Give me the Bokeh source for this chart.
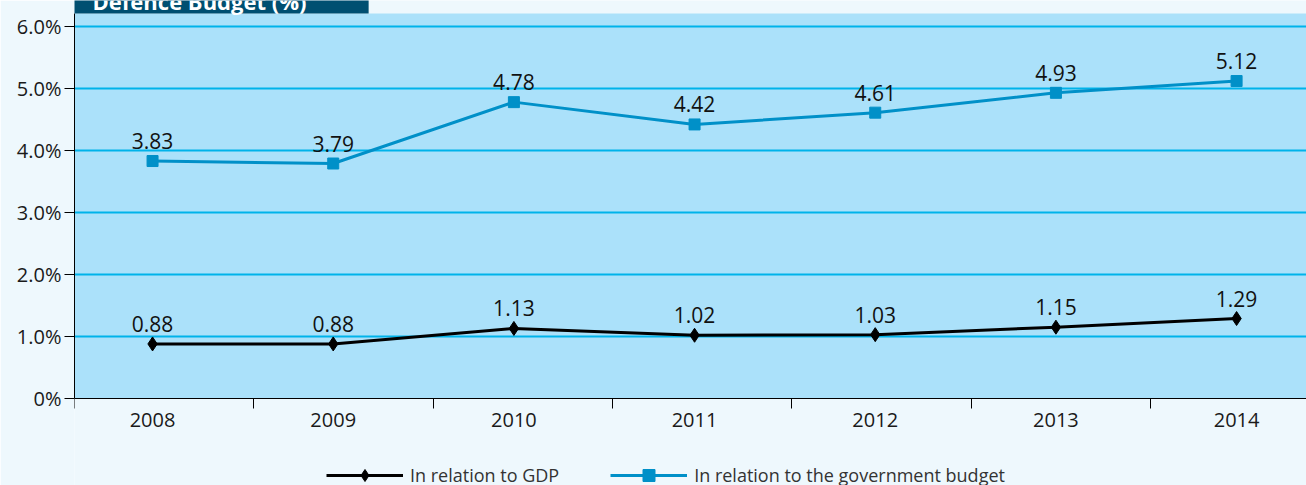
from bokeh.plotting import figure
from bokeh.models import FixedTicker, Legend, LegendItem, Label, BoxAnnotation
from bokeh.core.properties import value
from bokeh.embed import file_html
from bokeh.resources import INLINE

# ---- data ----
years = [2008, 2009, 2010, 2011, 2012, 2013, 2014]
gdp_share = [0.88, 0.88, 1.13, 1.02, 1.03, 1.15, 1.29]
budget_share = [3.83, 3.79, 4.78, 4.42, 4.61, 4.93, 5.12]
y_ticks = [0, 1, 2, 3, 4, 5, 6]
y_tick_labels = ["0%", "1.0%", "2.0%", "3.0%", "4.0%", "5.0%", "6.0%"]
title_text = "Defence Budget (%)"
series_names = ["In relation to GDP", "In relation to the government budget"]

# ---- styles ----
FONT = "Open Sans"
BLUE = "#0090c8"
GRID = "#00b3ea"
FRAME = "#abe1fa"
BG = "#eef8fd"
TITLE_BG = "#004f71"

X0, X1 = 2007.568, 2014.387
Y_BOTTOM, Y_TOP = -1.403, 6.419   # frame covers the whole canvas height
PLOT_TOP = 6.21                   # top of the light-blue plot area

p = figure(width=1306, height=485,
           x_range=(X0, X1), y_range=(Y_BOTTOM, Y_TOP),
           output_backend="svg", toolbar_location=None,
           min_border_left=74, min_border_right=0,
           min_border_top=0, min_border_bottom=0,
           background_fill_color=BG, border_fill_color=BG,
           outline_line_color=None)

# light-blue plot area (drawn beneath the grid)
p.add_layout(BoxAnnotation(bottom=0, top=PLOT_TOP, left=X0 - 0.2, right=X1 + 0.2,
                           fill_color=FRAME, fill_alpha=1,
                           line_color=None, level="image"))

# y axis
p.yaxis.ticker = FixedTicker(ticks=y_ticks)
p.yaxis.bounds = (0, PLOT_TOP)
p.yaxis.major_label_overrides = {t: s for t, s in zip(y_ticks, y_tick_labels)}
p.yaxis.major_label_text_font = FONT
p.yaxis.major_label_text_font_size = "20px"
p.yaxis.major_label_text_color = "#1a1a1a"
p.yaxis.major_tick_out = 10
p.yaxis.major_tick_in = 0
p.yaxis.minor_tick_line_color = None
p.yaxis.major_label_standoff = 3
p.yaxis.axis_line_color = "black"
p.yaxis.major_tick_line_color = "black"

# x axis drawn at y = 0 inside the frame
minor_x = [X0 + 0.9925 * i for i in range(8)]
p.xaxis.fixed_location = 0
p.xaxis.ticker = FixedTicker(ticks=years, minor_ticks=minor_x)
p.xaxis.major_label_overrides = {y: str(y) for y in years}
p.xaxis.major_label_text_font = FONT
p.xaxis.major_label_text_font_size = "20px"
p.xaxis.major_label_text_color = "#1a1a1a"
p.xaxis.major_tick_out = 0
p.xaxis.major_tick_in = 0
p.xaxis.major_tick_line_color = None
p.xaxis.minor_tick_out = 10
p.xaxis.minor_tick_in = 0
p.xaxis.minor_tick_line_color = "black"
p.xaxis.major_label_standoff = 4
p.xaxis.axis_line_color = "black"

p.xgrid.visible = False
p.ygrid.ticker = FixedTicker(ticks=y_ticks[1:])
p.ygrid.grid_line_color = GRID
p.ygrid.grid_line_width = 2

# series
bl = p.line(years, budget_share, line_color=BLUE, line_width=3)
bs = p.scatter(years, budget_share, marker="square", size=11,
               fill_color=BLUE, line_color=BLUE)
gl = p.line(years, gdp_share, line_color="black", line_width=3)
gs = p.scatter(years, gdp_share, marker="diamond", size=14,
               fill_color="black", line_color="black")

# data labels
for vals in (budget_share, gdp_share):
    p.text(x=years, y=vals, text=[f"{v:.2f}" for v in vals],
           text_font=value(FONT), text_font_size="21px", text_color="#111111",
           text_align="center", text_baseline="middle", y_offset=-20)

# the (cut) title box
p.add_layout(BoxAnnotation(bottom=PLOT_TOP, top=Y_TOP + 0.2,
                           left=2007.563, right=2009.196,
                           fill_color=TITLE_BG, fill_alpha=1, line_color=None))
p.add_layout(Label(x=2007.668, y=6.404, text=title_text, text_font=FONT,
                   text_font_style="bold", text_font_size="22px",
                   text_color="white", text_baseline="alphabetic",
                   text_align="left"))

# legend
legend = Legend(items=[LegendItem(label=series_names[0], renderers=[gl, gs]),
                       LegendItem(label=series_names[1], renderers=[bl, bs])],
                location=(252, -5), orientation="horizontal",
                glyph_width=77, glyph_height=30, label_standoff=7, spacing=51,
                padding=0, margin=0, border_line_color=None,
                background_fill_alpha=0,
                label_text_font=FONT, label_text_font_size="18px",
                label_text_color="#333333")
p.add_layout(legend)

open("out.html", "w").write(file_html(p, INLINE))
